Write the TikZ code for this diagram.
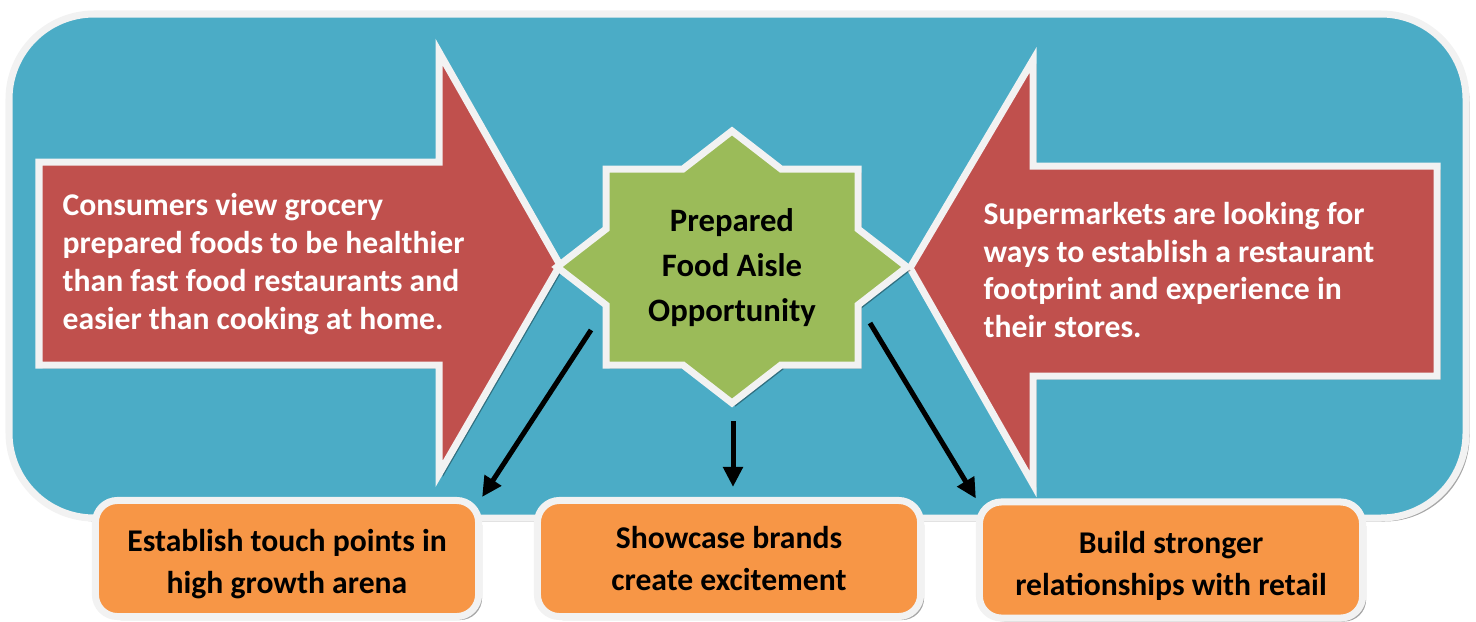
\documentclass[tikz,border=0pt]{standalone}
\usepackage{fontspec}
\setmainfont{Carlito}
\usetikzlibrary{arrows.meta,shadows}
\definecolor{bgblue}{HTML}{4BACC6}
\definecolor{arrowred}{HTML}{C0504D}
\definecolor{stargreen}{HTML}{9BBB59}
\definecolor{boxorange}{HTML}{F79646}
\definecolor{rimwhite}{HTML}{F2F2F2}
\newcommand{\boxstrut}{\rule{0pt}{9.6pt}}
\tikzset{
    rim/.style={draw=rimwhite,line width=0.07cm},
    softshadow/.style={drop shadow={shadow xshift=0.035cm,shadow yshift=-0.035cm,opacity=0.35,fill=black}},
    bigarrow/.style={rim,fill=arrowred,softshadow},
    arrowtext/.style={text=white,font=\bfseries\fontsize{9}{10.8}\selectfont,align=left,anchor=west,inner sep=0pt},
    startext/.style={font=\bfseries\fontsize{9.3}{12.8}\selectfont,align=center,inner sep=0pt},
    outcome/.style={rim,fill=boxorange,rounded corners=0.22cm,minimum width=3.83cm,minimum height=1.16cm,
        align=center,font=\bfseries\fontsize{9}{12}\selectfont,softshadow},
    conn/.style={line width=0.05cm,-{Triangle[length=0.2cm,width=0.19cm]}}
}
\begin{document}
\begin{tikzpicture}[x=0.01cm,y=-0.01cm]
        \useasboundingbox (0,0) rectangle (1476,621);

        \draw[rim,fill=bgblue,rounded corners=0.85cm,softshadow] (9,14) rectangle (1466,518);

        \draw[bigarrow] (39,162) -- (439,162) -- (439,52) -- (560,265) -- (439,474)
            -- (439,365) -- (39,365) -- cycle;
        \node[arrowtext] (consumers) at (62,264)
            {Consumers view grocery\\prepared foods to be healthier\\than fast food restaurants and\\easier than cooking at home.};

        \draw[bigarrow] (1437,166) -- (1033,166) -- (1033,60) -- (910,268) -- (1033,484)
            -- (1033,376) -- (1437,376) -- cycle;
        \node[arrowtext] (markets) at (983,270)
            {Supermarkets are looking for\\ways to establish a restaurant\\footprint and experience in\\their stores.};

        \draw[rim,fill=stargreen,softshadow] (732,131) -- (781,169) -- (858,169) -- (858,229)
            -- (907,267) -- (858,305) -- (858,365) -- (781,365) -- (732,403) -- (683,365)
            -- (606,365) -- (606,305) -- (557,267) -- (606,229) -- (606,169) -- (683,169) -- cycle;
        \node[startext] (opp) at (732,268) {Prepared\\Food Aisle\\Opportunity};

        \node[outcome] (touch) at (287,558.5) {\boxstrut Establish touch points in\\high growth arena};
        \node[outcome] (brands) at (729,558.5) {Showcase brands\\create excitement};
        \node[outcome] (retail) at (1171,560) {\boxstrut Build stronger\\relationships with retail};

        \coordinate (c1) at (591,330);
        \coordinate (c2) at (733,421);
        \coordinate (c3) at (870,323);
        \draw[conn] (c1) -- (touch.north east);
        \draw[conn,shorten >=0.1cm] (c2) -- (c2 |- brands.north);
        \draw[conn] (c3) -- (retail.north west);
\end{tikzpicture}
\end{document}
